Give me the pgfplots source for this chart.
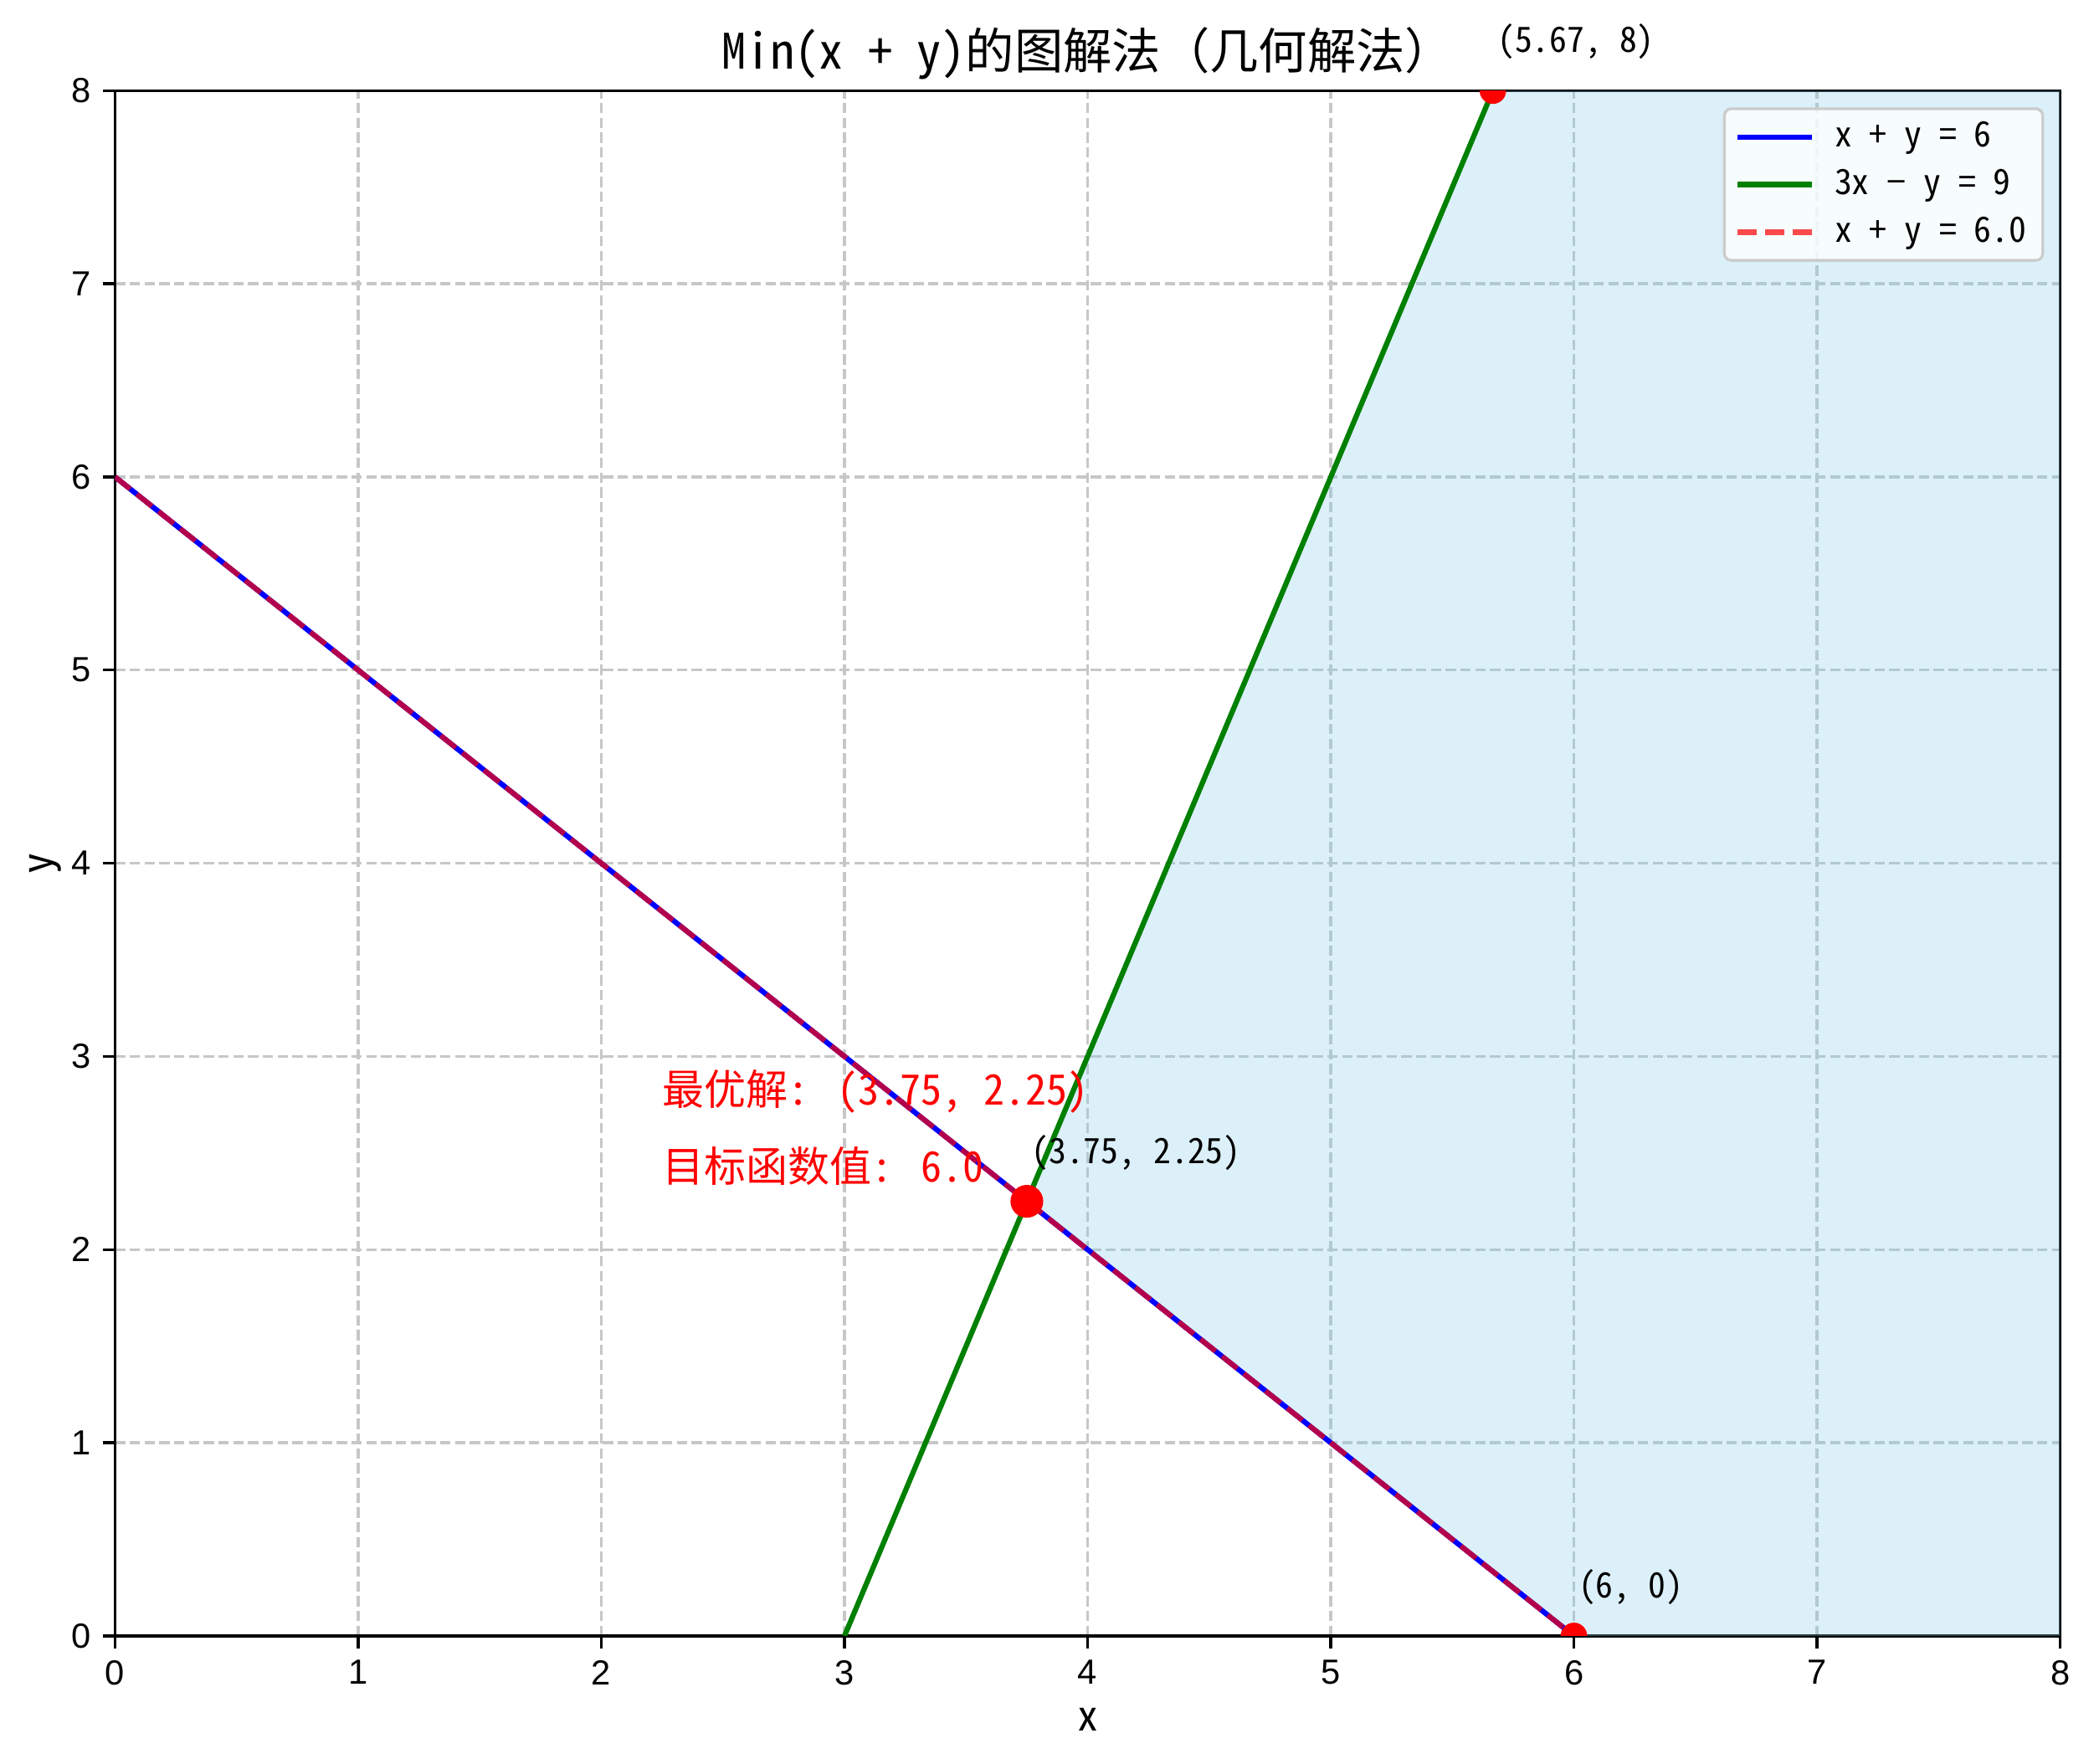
\documentclass[border=0pt]{standalone}
\usepackage{pgfplots}
\pgfplotsset{compat=1.18}
\usepackage{fontspec}
\setmainfont{Liberation Sans}
\newfontfamily\cjk{Noto Sans Mono CJK SC}
\definecolor{skyfill}{RGB}{135,206,235}
\definecolor{mplgreen}{RGB}{0,128,0}
\begin{document}
\begin{tikzpicture}
\begin{axis}[
  scale only axis, width=557.8pt, height=443.2pt,
  xmin=0, xmax=8, ymin=0, ymax=8,
  xtick={0,...,8}, ytick={0,...,8},
  tick pos=left, tick align=outside, major tick length=3.5pt,
  every tick/.style={black, line width=0.8pt},
  axis line style={line width=0.8pt},
  grid=major,
  major grid style={black!22, line width=0.8pt, dash pattern=on 2.96pt off 1.28pt},
  ticklabel style={font=\fontsize{10}{12}\selectfont},
  /pgf/number format/assume math mode=true,
  xlabel={x}, ylabel={y},
  label style={font=\cjk\fontsize{12}{14}\selectfont},
  xlabel style={at={([yshift=-24pt]axis description cs:0.5,0)}, anchor=center},
  ylabel style={at={([xshift=-20pt]axis description cs:0,0.5)}, anchor=center},
  title={Min(x + y)的图解法（几何解法）},
  title style={at={(axis description cs:0.5,1)}, anchor=base, yshift=0.2pt, font=\cjk\fontsize{14}{16}\selectfont},
  clip mode=individual,
  legend image code/.code={\draw[#1] (0pt,0pt) -- (21.4pt,0pt);},
  legend cell align=left,
  legend style={at={([xshift=-4.6pt,yshift=-4.8pt]rel axis cs:1,1)}, anchor=north east,
    font=\cjk\fontsize{10}{12}\selectfont, draw=black!20, fill=white, fill opacity=0.8, text opacity=1,
    rounded corners=2pt, line width=0.8pt, inner xsep=3pt, inner ysep=2pt,
    row sep=1.5pt, column sep=4pt,
    nodes={inner sep=1.7pt}},
]
\addplot[draw=none, fill=skyfill, fill opacity=0.3, forget plot]
  coordinates {(3.75,2.25) (5.6667,8) (8,8) (8,0) (6,0)} -- cycle;
\addplot[blue, line width=1.5pt] coordinates {(0,6) (6,0)};
\addlegendentry{x + y = 6}
\addplot[mplgreen, line width=1.5pt] coordinates {(3,0) (5.6667,8)};
\addlegendentry{3x − y = 9}
\addplot[red, draw opacity=0.7, line width=1.5pt, dash pattern=on 5.55pt off 2.4pt] coordinates {(0,6) (6,0)};
\addlegendentry{x + y = 6.0}
\addplot[only marks, mark=*, mark size=4.5pt, red, clip marker paths=true, forget plot] coordinates {(3.75,2.25)};
\addplot[only marks, mark=*, mark size=3.6pt, red, clip marker paths=true, forget plot] coordinates {(5.6667,8) (6,0)};
\node[anchor=base west, font=\cjk\fontsize{10}{12}\selectfont, xshift=-2.2pt, yshift=10.8pt] at (axis cs:3.75,2.25) {(3.75, 2.25)};
\node[anchor=base west, font=\cjk\fontsize{10}{12}\selectfont, xshift=-2.2pt, yshift=11pt] at (axis cs:5.6667,8) {(5.67, 8)};
\node[anchor=base west, font=\cjk\fontsize{10}{12}\selectfont, xshift=-2.2pt, yshift=10.8pt] at (axis cs:6,0) {(6, 0)};
\node[anchor=base west, text=red, font=\cjk\fontsize{12}{14}\selectfont, inner sep=0pt] at (axis cs:2.25,2.75) {最优解: (3.75, 2.25)};
\node[anchor=base west, text=red, font=\cjk\fontsize{12}{14}\selectfont, inner sep=0pt] at (axis cs:2.25,2.35) {目标函数值: 6.0};
\end{axis}
\pgfresetboundingbox
\path[use as bounding box] ([xshift=-33pt,yshift=-36.5pt]current axis.south west) rectangle ([xshift=9.7pt,yshift=26pt]current axis.north east);
\end{tikzpicture}
\end{document}
